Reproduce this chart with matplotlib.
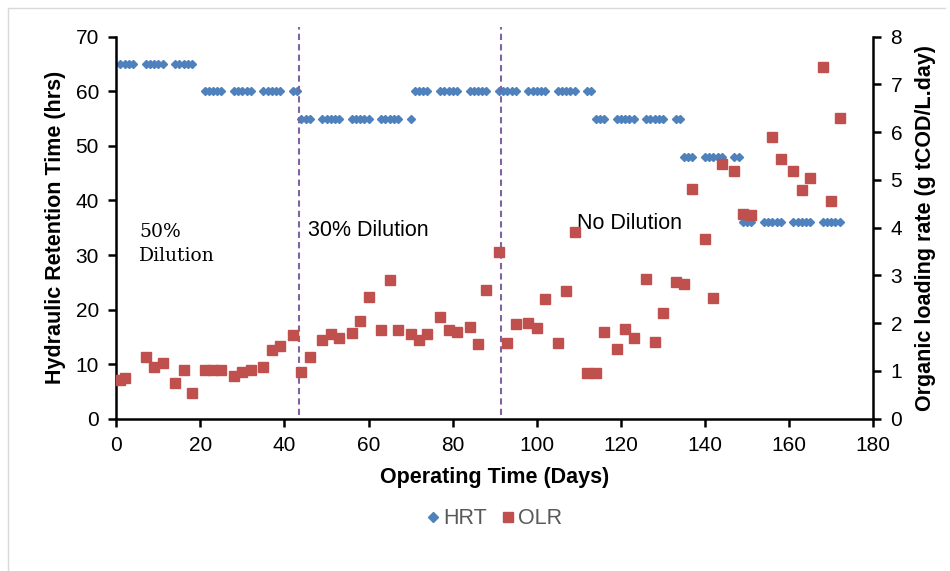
import matplotlib
matplotlib.use('Agg')
import matplotlib.pyplot as plt
from matplotlib.lines import Line2D

plt.rcParams['font.family'] = ['Liberation Sans', 'DejaVu Sans']

# HRT (hrs) by operating day
hrt_days = [1, 2, 3, 4, 7, 8, 9, 10, 11, 14, 15, 16, 17, 18,
            21, 22, 23, 24, 25, 28, 29, 30, 31, 32, 35, 36, 37, 38, 39, 42, 43,
            44, 45, 46, 49, 50, 51, 52, 53, 56, 57, 58, 59, 60, 63, 64, 65, 66, 67, 70,
            71, 72, 73, 74, 77, 78, 79, 80, 81, 84, 85, 86, 87, 88, 91, 92, 93, 94, 95,
            98, 99, 100, 101, 102, 105, 106, 107, 108, 109, 112, 113,
            114, 115, 116, 119, 120, 121, 122, 123, 126, 127, 128, 129, 130, 133, 134,
            135, 136, 137, 140, 141, 142, 143, 144, 147, 148,
            149, 150, 151, 154, 155, 156, 157, 158, 161, 162, 163, 164, 165,
            168, 169, 170, 171, 172]
hrt_vals = ([65] * 14 + [60] * 17 + [55] * 19 + [60] * 31 + [55] * 15
            + [48] * 10 + [36] * 18)

# OLR (g tCOD/L.day) by operating day
olr_days = [1, 2, 7, 9, 11, 14, 16, 18, 21, 23, 25, 28, 30, 32, 35, 37, 39, 42,
            44, 46, 49, 51, 53, 56, 58, 60, 63, 65, 67, 70, 72, 74, 77, 79, 81, 84,
            86, 88, 91, 93, 95, 98, 100, 102, 105, 107, 109, 112, 114, 116, 119, 121,
            123, 126, 128, 130, 133, 135, 137, 140, 142, 144, 147, 149, 151, 156, 158,
            161, 163, 165, 168, 170, 172]
olr_vals = [0.81, 0.85, 1.30, 1.09, 1.17, 0.74, 1.02, 0.53, 1.02, 1.02, 1.02, 0.89,
            0.98, 1.02, 1.09, 1.44, 1.52, 1.75, 0.97, 1.30, 1.65, 1.77, 1.68, 1.80,
            2.05, 2.55, 1.85, 2.90, 1.85, 1.77, 1.65, 1.78, 2.14, 1.85, 1.82, 1.93,
            1.57, 2.69, 3.50, 1.58, 1.99, 2.01, 1.91, 2.51, 1.58, 2.68, 3.90, 0.95,
            0.96, 1.82, 1.45, 1.88, 1.68, 2.93, 1.61, 2.22, 2.87, 2.82, 4.82, 3.77,
            2.53, 5.33, 5.19, 4.29, 4.26, 5.89, 5.44, 5.19, 4.79, 5.05, 7.37, 4.56,
            6.30]

phase_changes = [43.5, 91.4]

blue = '#4F81BD'
red = '#C0504D'
purple = '#8064A2'

fig = plt.figure(figsize=(9.5, 5.71), dpi=100)
ax = fig.add_axes([0.1224, 0.2667, 0.7968, 0.669])
ax2 = ax.twinx()

ax.plot(hrt_days, hrt_vals, linestyle='none', marker='D', markersize=4.4,
        color=blue, label='HRT')
ax2.plot(olr_days, olr_vals, linestyle='none', marker='s', markersize=7,
         color=red, label='OLR')

for d in phase_changes:
    ax.plot([d, d], [0.7, 71.8], linestyle=(0, (3, 2)), color=purple,
            linewidth=1.5, clip_on=False, zorder=5)

ax.set_xlim(0, 180)
ax.set_ylim(0, 70)
ax2.set_ylim(0, 8)
ax.set_xticks(range(0, 181, 20))
ax.set_yticks(range(0, 71, 10))
ax2.set_yticks(range(0, 9, 1))

for a in (ax, ax2):
    a.spines['top'].set_visible(False)
    for s in ('left', 'bottom', 'right'):
        a.spines[s].set_linewidth(1.8)
    a.tick_params(labelsize=15, width=1.8, length=5.5, pad=7, direction='out')
ax.spines['right'].set_visible(False)
ax2.spines['left'].set_visible(False)
ax2.spines['bottom'].set_visible(False)

ax.set_xlabel('Operating Time (Days)', fontsize=15.5, fontweight='bold', va='center')
ax.set_ylabel('Hydraulic Retention Time (hrs)', fontsize=15.5, fontweight='bold',
              va='center')
ax2.set_ylabel('Organic loading rate (g tCOD/L.day)', fontsize=15.5,
               fontweight='bold', va='center')
ax.xaxis.set_label_coords(0.5, -0.155)
ax.yaxis.set_label_coords(-0.0806, 0.5)
ax2.yaxis.set_label_coords(1.0687, 0.5)

ax.text(5.4, 32.0, '50%\nDilution', family=['DejaVu Serif'],
        fontsize=13.5, ha='left', va='center', linespacing=1.4)
ax.text(45.7, 34.4, '30% Dilution', fontsize=15.5, ha='left', va='center')
ax.text(109.6, 35.7, 'No Dilution', fontsize=15.5, ha='left', va='center')

handles = [Line2D([], [], linestyle='none', marker='D', markersize=5, color=blue),
           Line2D([], [], linestyle='none', marker='s', markersize=7, color=red)]
leg = ax.legend(handles, ['HRT', 'OLR'], loc='center', ncol=2,
                bbox_to_anchor=(0.5, -0.262), frameon=False, fontsize=15.5,
                handletextpad=0.17, columnspacing=0.67, handlelength=0.6,
                borderpad=0, borderaxespad=0)
for t in leg.get_texts():
    t.set_color('#595959')

# light frame of the chart area
fig.add_artist(Line2D([8 / 950, 8 / 950], [0, 1 - 8 / 571], color='#D9D9D9',
                      linewidth=1, transform=fig.transFigure))
fig.add_artist(Line2D([8 / 950, 945 / 950], [1 - 8 / 571, 1 - 8 / 571],
                      color='#D9D9D9', linewidth=1, transform=fig.transFigure))

fig.savefig('out.png', dpi=100)
